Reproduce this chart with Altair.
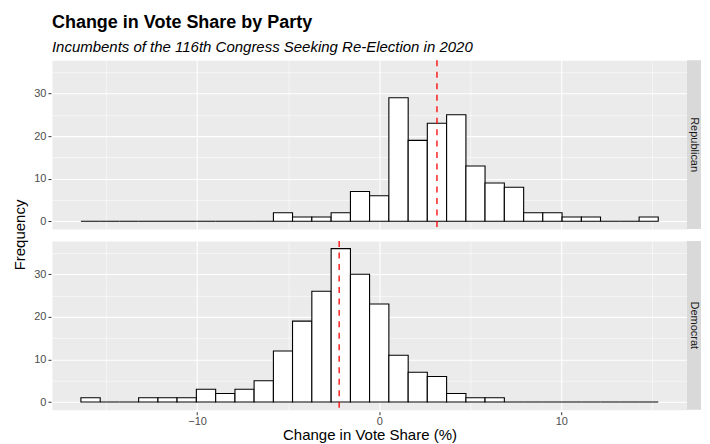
import altair as alt
import pandas as pd

# ---- data ----
bin_edges = [-16.38, -15.32, -14.27, -13.21, -12.15, -11.10, -10.04, -8.98, -7.92,
             -6.87, -5.81, -4.76, -3.70, -2.64, -1.58, -0.53, 0.53, 1.59, 2.64,
             3.70, 4.76, 5.81, 6.87, 7.93, 8.98, 10.04, 11.10, 12.15, 13.21,
             14.27, 15.32]
republican_counts = [0, 0, 0, 0, 0, 0, 0, 0, 0, 0, 2, 1, 1, 2, 7, 6, 29, 19, 23,
                     25, 13, 9, 8, 2, 2, 1, 1, 0, 0, 1]
democrat_counts = [1, 0, 0, 1, 1, 1, 3, 2, 3, 5, 12, 19, 26, 36, 30, 23, 11, 7, 6,
                   2, 1, 1, 0, 0, 0, 0, 0, 0, 0, 0]
parties = ["Republican", "Democrat"]
party_means = [3.17, -2.20]
x_ticks = [-15, -10, -5, 0, 5, 10, 15]
y_ticks = [0, 5, 10, 15, 20, 25, 30, 35]

rows = []
for party, counts, m in zip(parties, [republican_counts, democrat_counts], party_means):
    for i, c in enumerate(counts):
        rows.append(dict(party=party, lo=bin_edges[i], hi=bin_edges[i + 1],
                         count=c, mean=m, first=(i == 0)))
df = pd.DataFrame(rows)

W, H = 636, 169
STRIP = 14
FONT = "Liberation Sans"

x_scale = alt.Scale(domain=[-17.97, 16.9], nice=False, zero=False)
y_scale = alt.Scale(domain=[-1.8, 37.8], nice=False, zero=False)

mx = "datum.value % 10 == 0"
x_axis = alt.Axis(
    values=x_ticks,
    labelExpr=f"{mx} ? datum.label : ''",
    grid=True,
    gridColor="white",
    gridWidth={"condition": {"test": mx, "value": 1.1}, "value": 0.55},
    tickOpacity={"condition": {"test": mx, "value": 1}, "value": 0},
    tickColor="#333333", tickSize=3, tickWidth=1,
    domain=False,
    labelColor="#4D4D4D", labelFontSize=11, labelPadding=1, labelFont=FONT,
    title="Change in Vote Share (%)", titleFontSize=15, titleFontWeight="normal",
    titleColor="black", titleFont=FONT, titlePadding=1,
)
y_axis = alt.Axis(
    values=y_ticks,
    labelExpr=f"{mx} ? datum.label : ''",
    grid=True,
    gridColor="white",
    gridWidth={"condition": {"test": mx, "value": 1.1}, "value": 0.55},
    tickOpacity={"condition": {"test": mx, "value": 1}, "value": 0},
    tickColor="#333333", tickSize=3, tickWidth=1,
    domain=False,
    labelColor="#4D4D4D", labelFontSize=11, labelPadding=2, labelFont=FONT,
    title=None,
)

bars = alt.Chart().mark_rect(fill="white", stroke="black", strokeWidth=1.1).encode(
    x=alt.X("lo:Q", scale=x_scale, axis=x_axis),
    x2="hi:Q",
    y=alt.Y("count:Q", scale=y_scale, axis=y_axis),
    y2=alt.datum(0),
)

rule = alt.Chart().transform_filter("datum.first").mark_rule(
    color="#FF0000", strokeDash=[6, 5.5], strokeWidth=1.3
).encode(x=alt.X("mean:Q", title="Change in Vote Share (%)"))

strip = alt.Chart().transform_filter("datum.first").mark_rect(color="#D9D9D9").encode(
    x=alt.value(W), x2=alt.value(W + STRIP), y=alt.value(0), y2=alt.value(H)
)
strip_text = alt.Chart().transform_filter("datum.first").mark_text(
    angle=90, fontSize=11, color="#1A1A1A", font=FONT, align="center", baseline="middle"
).encode(x=alt.value(W + STRIP / 2), y=alt.value(H / 2), text="party:N")

chart = alt.layer(bars, rule, strip, strip_text).properties(width=W, height=H).facet(
    row=alt.Row(
        "party:N", sort=parties,
        header=alt.Header(
            labels=False, title="Frequency", titleFont=FONT, titleFontSize=15,
            titleFontWeight="normal", titleColor="black", titlePadding=-5,
        ),
    ),
    data=df,
    spacing=8,
).properties(
    title=alt.TitleParams(
        text="Change in Vote Share by Party",
        subtitle="Incumbents of the 116th Congress Seeking Re-Election in 2020",
        anchor="start", frame="group",
        font=FONT, fontSize=18, fontWeight="bold", color="black",
        subtitleFont=FONT, subtitleFontSize=15, subtitleFontStyle="italic",
        subtitleColor="black", subtitlePadding=8, offset=4,
    ),
    padding={"left": 4, "top": 5, "right": 0, "bottom": 0},
).configure_view(fill="#EBEBEB", stroke="transparent")

chart.save("out.html", embed_options={"renderer": "svg", "actions": False})
